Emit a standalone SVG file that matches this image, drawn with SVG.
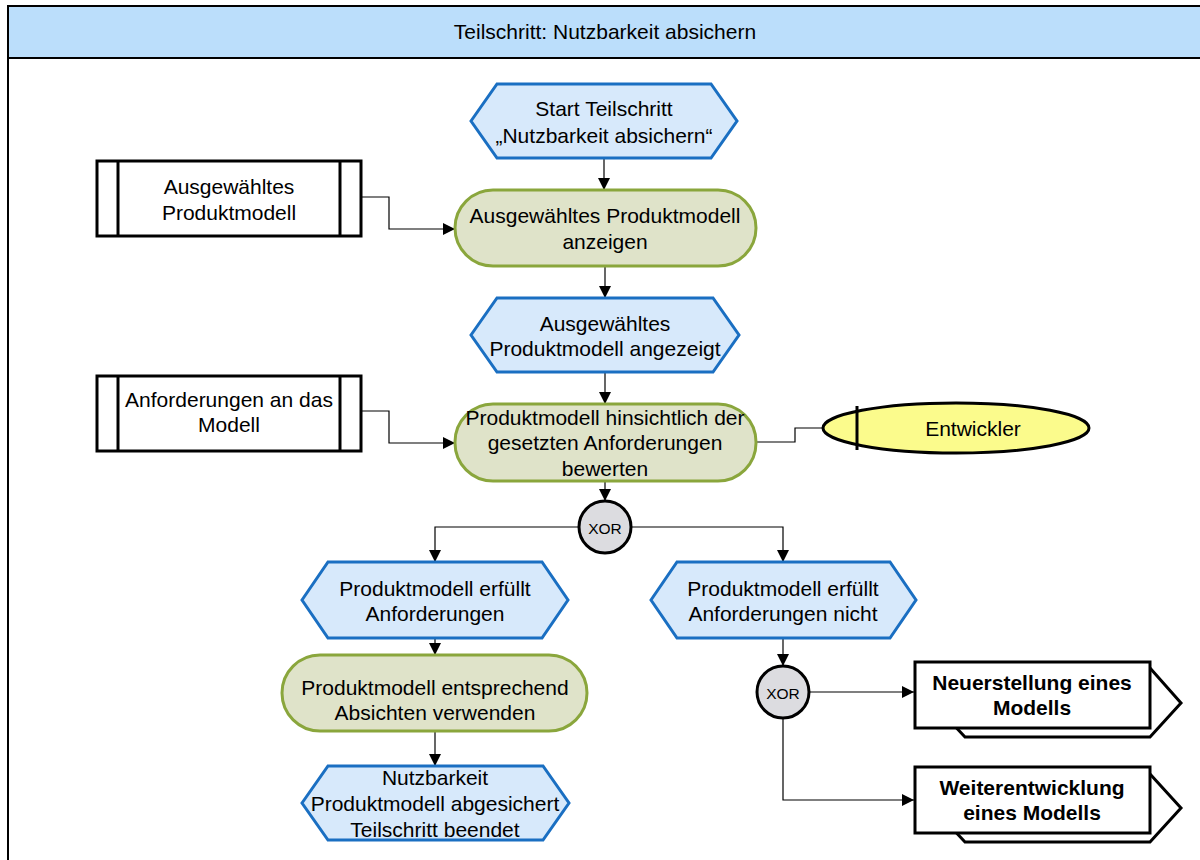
<svg xmlns="http://www.w3.org/2000/svg" width="1200" height="860" viewBox="0 0 1200 860">
  <style>
    text { font-family: "Liberation Sans", Arial, sans-serif; fill: #000; text-anchor: middle; dominant-baseline: central; }
    .t { font-size: 21px; }
    .hdr { font-size: 21px; }
    .xor { font-size: 15.5px; }
    .b { font-size: 21px; font-weight: bold; }
    .event { fill: #d7e9fb; stroke: #1a6fc2; stroke-width: 3; }
    .func { fill: #dfe3c9; stroke: #8aa63c; stroke-width: 3; }
    .data { fill: #fff; stroke: #000; stroke-width: 3; }
    .gate { fill: #dcdce0; stroke: #000; stroke-width: 3; }
    .role { fill: #fbfb8c; stroke: #000; stroke-width: 3; }
    .iface { fill: #fff; stroke: #000; stroke-width: 3; }
    .conn { fill: none; stroke: #000; stroke-width: 1.2; }
  </style>
  <defs>
    <marker id="arrow" viewBox="0 0 12 12" refX="12" refY="6" markerWidth="12" markerHeight="12" markerUnits="userSpaceOnUse" orient="auto">
      <path d="M0,0 L12,6 L0,12 z" fill="#000"/>
    </marker>
  </defs>

  <!-- lane frame and title band -->
  <g id="lane">
    <rect x="8" y="58" width="1200" height="820" fill="#fff" stroke="#000" stroke-width="2"/>
    <rect x="8" y="6" width="1200" height="52" fill="#bbdefb" stroke="#000" stroke-width="2"/>
    <text class="hdr" x="605" y="31">Teilschritt: Nutzbarkeit absichern</text>
  </g>

  <!-- connectors -->
  <g id="connectors">
    <path class="conn" d="M604,158 V190" marker-end="url(#arrow)"/>
    <path class="conn" d="M605,266 V298" marker-end="url(#arrow)"/>
    <path class="conn" d="M605,372 V404" marker-end="url(#arrow)"/>
    <path class="conn" d="M605,481 V501" marker-end="url(#arrow)"/>
    <path class="conn" d="M362,197 H389 V229 H455" marker-end="url(#arrow)"/>
    <path class="conn" d="M362,411 H389 V443 H455" marker-end="url(#arrow)"/>
    <path class="conn" d="M756,442 H795 V428 H823"/>
    <path class="conn" d="M579,527 H435 V562" marker-end="url(#arrow)"/>
    <path class="conn" d="M631,527 H783 V562" marker-end="url(#arrow)"/>
    <path class="conn" d="M435,638 V655" marker-end="url(#arrow)"/>
    <path class="conn" d="M435,731 V766" marker-end="url(#arrow)"/>
    <path class="conn" d="M783,638 V666" marker-end="url(#arrow)"/>
    <path class="conn" d="M809,692 H914" marker-end="url(#arrow)"/>
    <path class="conn" d="M783,718 V800 H914" marker-end="url(#arrow)"/>
  </g>

  <g id="start-event">
    <polygon class="event" points="471,121 497,84 711,84 737,121 711,158 497,158"/>
    <text class="t" x="604" y="108">Start Teilschritt</text>
    <text class="t" x="604" y="135">„Nutzbarkeit absichern“</text>
  </g>

  <g id="data-produktmodell">
    <rect class="data" x="97" y="161" width="264" height="75"/>
    <line x1="118" y1="161" x2="118" y2="236" stroke="#000" stroke-width="3"/>
    <line x1="340" y1="161" x2="340" y2="236" stroke="#000" stroke-width="3"/>
    <text class="t" x="229" y="186">Ausgewähltes</text>
    <text class="t" x="229" y="212">Produktmodell</text>
  </g>

  <g id="func-anzeigen">
    <rect class="func" x="455" y="190" width="301" height="76" rx="38"/>
    <text class="t" x="605" y="215">Ausgewähltes Produktmodell</text>
    <text class="t" x="605" y="241">anzeigen</text>
  </g>

  <g id="event-angezeigt">
    <polygon class="event" points="471,335 497,298 713,298 739,335 713,372 497,372"/>
    <text class="t" x="605" y="323">Ausgewähltes</text>
    <text class="t" x="605" y="348">Produktmodell angezeigt</text>
  </g>

  <g id="data-anforderungen">
    <rect class="data" x="97" y="376" width="264" height="75"/>
    <line x1="118" y1="376" x2="118" y2="451" stroke="#000" stroke-width="3"/>
    <line x1="340" y1="376" x2="340" y2="451" stroke="#000" stroke-width="3"/>
    <text class="t" x="229" y="399">Anforderungen an das</text>
    <text class="t" x="229" y="424">Modell</text>
  </g>

  <g id="func-bewerten">
    <rect class="func" x="455" y="404" width="301" height="77" rx="38"/>
    <text class="t" x="605" y="417">Produktmodell hinsichtlich der</text>
    <text class="t" x="605" y="442">gesetzten Anforderungen</text>
    <text class="t" x="605" y="468">bewerten</text>
  </g>

  <g id="role-entwickler">
    <ellipse class="role" cx="956" cy="428" rx="133" ry="25"/>
    <line x1="857" y1="406" x2="857" y2="450" stroke="#000" stroke-width="3"/>
    <text class="t" x="973" y="428">Entwickler</text>
  </g>

  <g id="xor-1">
    <circle class="gate" cx="605" cy="527" r="26"/>
    <text class="xor" x="605" y="528">XOR</text>
  </g>

  <g id="event-erfuellt">
    <polygon class="event" points="302,600 328,562 542,562 568,600 542,638 328,638"/>
    <text class="t" x="435" y="588">Produktmodell erfüllt</text>
    <text class="t" x="435" y="613">Anforderungen</text>
  </g>

  <g id="event-nicht-erfuellt">
    <polygon class="event" points="651,600 677,562 890,562 916,600 890,638 677,638"/>
    <text class="t" x="783" y="588">Produktmodell erfüllt</text>
    <text class="t" x="783" y="613">Anforderungen nicht</text>
  </g>

  <g id="func-verwenden">
    <rect class="func" x="282" y="655" width="305" height="76" rx="38"/>
    <text class="t" x="435" y="687">Produktmodell entsprechend</text>
    <text class="t" x="435" y="712">Absichten verwenden</text>
  </g>

  <g id="end-event">
    <polygon class="event" points="302,803 328,766 543,766 569,803 543,840 328,840"/>
    <text class="t" x="435" y="777">Nutzbarkeit</text>
    <text class="t" x="435" y="803">Produktmodell abgesichert</text>
    <text class="t" x="435" y="829">Teilschritt beendet</text>
  </g>

  <g id="xor-2">
    <circle class="gate" cx="783" cy="692" r="26"/>
    <text class="xor" x="783" y="693">XOR</text>
  </g>

  <g id="iface-neuerstellung">
    <polygon class="iface" points="935,668 1150,668 1181,703 1150,737 965,737 935,705"/>
    <rect class="iface" x="915" y="662" width="235" height="66"/>
    <text class="b" x="1032" y="682">Neuerstellung eines</text>
    <text class="b" x="1032" y="707">Modells</text>
  </g>

  <g id="iface-weiterentwicklung">
    <polygon class="iface" points="935,774 1150,774 1181,808 1150,842 965,842 935,810"/>
    <rect class="iface" x="915" y="767" width="235" height="66"/>
    <text class="b" x="1032" y="787">Weiterentwicklung</text>
    <text class="b" x="1032" y="812">eines Modells</text>
  </g>
</svg>
